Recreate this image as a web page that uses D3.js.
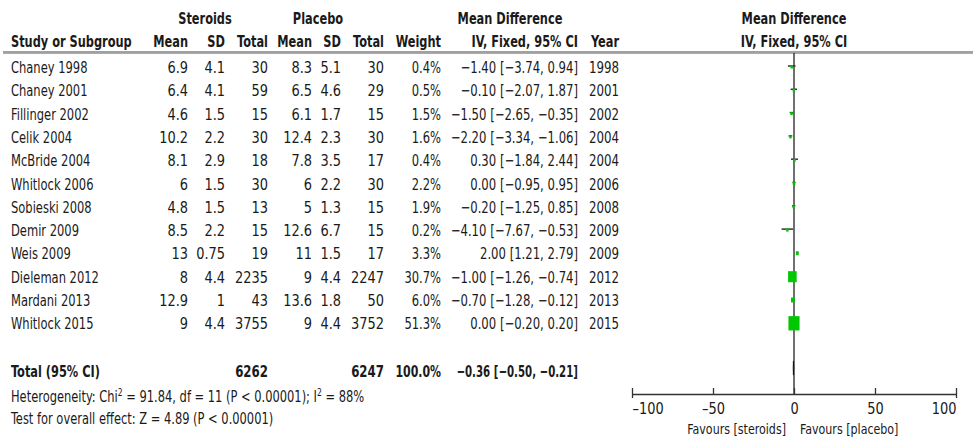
<!DOCTYPE html>
<html>
<head>
<meta charset="utf-8">
<script src="https://cdn.jsdelivr.net/npm/d3@7"></script>
<style>
  body { margin: 0; background: #fff; }
  svg text { font-family: 'DejaVu Sans Condensed', 'DejaVu Sans', sans-serif; fill: #1a1a1a; }
</style>
</head>
<body>
<script>
// data
var studies = ["Chaney 1998", "Chaney 2001", "Fillinger 2002", "Celik 2004", "McBride 2004", "Whitlock 2006",
               "Sobieski 2008", "Demir 2009", "Weis 2009", "Dieleman 2012", "Mardani 2013", "Whitlock 2015"];
var steroidMean = ["6.9", "6.4", "4.6", "10.2", "8.1", "6", "4.8", "8.5", "13", "8", "12.9", "9"];
var steroidSD = ["4.1", "4.1", "1.5", "2.2", "2.9", "1.5", "1.5", "2.2", "0.75", "4.4", "1", "4.4"];
var steroidTotal = [30, 59, 15, 30, 18, 30, 13, 15, 19, 2235, 43, 3755];
var placeboMean = ["8.3", "6.5", "6.1", "12.4", "7.8", "6", "5", "12.6", "11", "9", "13.6", "9"];
var placeboSD = ["5.1", "4.6", "1.7", "2.3", "3.5", "2.2", "1.3", "6.7", "1.5", "4.4", "1.8", "4.4"];
var placeboTotal = [30, 29, 15, 30, 17, 30, 15, 15, 17, 2247, 50, 3752];
var weight = [0.4, 0.5, 1.5, 1.6, 0.4, 2.2, 1.9, 0.2, 3.3, 30.7, 6.0, 51.3];
var md = [-1.40, -0.10, -1.50, -2.20, 0.30, 0.00, -0.20, -4.10, 2.00, -1.00, -0.70, 0.00];
var ciLow = [-3.74, -2.07, -2.65, -3.34, -1.84, -0.95, -1.25, -7.67, 1.21, -1.26, -1.28, -0.20];
var ciHigh = [0.94, 1.87, -0.35, -1.06, 2.44, 0.95, 0.85, -0.53, 2.79, -0.74, -0.12, 0.20];
var years = [1998, 2001, 2002, 2004, 2004, 2006, 2008, 2009, 2009, 2012, 2013, 2015];
var total = { steroid: 6262, placebo: 6247, weight: "100.0%", md: -0.36, lo: -0.50, hi: -0.21 };
var axisTicks = [-100, -50, 0, 50, 100];

var width = 973, height = 438;
var svg = d3.select("body").append("svg")
            .attr("width", width)
            .attr("height", height);

// the reference font is tall and narrow, squeeze the glyphs horizontally
var SX = 0.85, SXB = 0.79, SXN = 0.9;

var fmt = function(v) { return d3.format(".2f")(v).replace("-", "–"); };
var ciText = function(m, l, h) { return fmt(m) + " [" + fmt(l) + ", " + fmt(h) + "]"; };

function txt(g, x0, y0, s, anchor, bold, size, sx) {
  var k = sx || (bold ? SXB : SX);
  return g.append("text")
          .attr("transform", "translate(" + x0 + "," + y0 + ") scale(" + k + ",1)")
          .attr("text-anchor", anchor || "start")
          .attr("font-weight", bold ? "bold" : null)
          .attr("font-size", size || 16)
          .text(s);
}

// row positions
var y = d3.scaleLinear().domain([0, 1]).range([67, 90.3]);
var x = d3.scaleLinear().domain([-100, 100]).range([632, 956]);
var axisY = 394;

// header
txt(svg, 205, 24, "Steroids", "middle", true);
txt(svg, 318, 24, "Placebo", "middle", true);
txt(svg, 510, 24, "Mean Difference", "middle", true);
txt(svg, 794, 24, "Mean Difference", "middle", true);

var cols = [
  { x: 11, a: "start", h: "Study or Subgroup", sx: 0.8 },
  { x: 188, a: "end", h: "Mean", sx: SXN },
  { x: 225, a: "end", h: "SD", sx: SXN },
  { x: 268, a: "end", h: "Total", sx: SXN },
  { x: 312, a: "end", h: "Mean", sx: SXN },
  { x: 341, a: "end", h: "SD", sx: SXN },
  { x: 384, a: "end", h: "Total", sx: SXN },
  { x: 441, a: "end", h: "Weight", sx: 0.8 },
  { x: 578, a: "end", h: "IV, Fixed, 95% CI", sx: 0.81 },
  { x: 619, a: "end", h: "Year", sx: 0.82 }
];
cols.forEach(function(c) { txt(svg, c.x, 47, c.h, c.a, true); });
txt(svg, 794, 47, "IV, Fixed, 95% CI", "middle", true);

// header rule
svg.append("line").attr("x1", 3).attr("x2", width).attr("y1", 52).attr("y2", 52)
   .attr("stroke", "#444").attr("stroke-width", 1.2);
svg.append("line").attr("x1", 3).attr("x2", width).attr("y1", 53.5).attr("y2", 53.5)
   .attr("stroke", "#aaa").attr("stroke-width", 1);

// table body
var cellText = [
  function(i) { return studies[i]; },
  function(i) { return steroidMean[i]; },
  function(i) { return steroidSD[i]; },
  function(i) { return steroidTotal[i]; },
  function(i) { return placeboMean[i]; },
  function(i) { return placeboSD[i]; },
  function(i) { return placeboTotal[i]; },
  function(i) { return weight[i].toFixed(1) + "%"; },
  function(i) { return ciText(md[i], ciLow[i], ciHigh[i]); },
  function(i) { return years[i]; }
];
var body = svg.append("g");
studies.forEach(function(s, i) {
  cols.forEach(function(c, k) {
    txt(body, c.x, y(i) + 6, cellText[k](i), c.a, false, 16, c.sx);
  });
});

// total row
var ty = y(13.05) + 6;
txt(svg, 11, ty, "Total (95% CI)", "start", true);
txt(svg, 268, ty, total.steroid, "end", true, 16, 0.82);
txt(svg, 384, ty, total.placebo, "end", true, 16, 0.82);
txt(svg, 441, ty, total.weight, "end", true, 16, 0.76);
txt(svg, 578, ty, ciText(total.md, total.lo, total.hi), "end", true, 16, 0.71);

// footer
var het = txt(svg, 11, 402, "", "start", false, 15);
het.append("tspan").text("Heterogeneity: Chi");
het.append("tspan").attr("font-size", 10).attr("dy", -6).text("2");
het.append("tspan").attr("dy", 6).text(" = 91.84, df = 11 (P < 0.00001); I");
het.append("tspan").attr("font-size", 10).attr("dy", -6).text("2");
het.append("tspan").attr("dy", 6).text(" = 88%");
txt(svg, 11, 424, "Test for overall effect: Z = 4.89 (P < 0.00001)", "start", false, 15);

// forest plot
svg.append("line").attr("x1", x(0)).attr("x2", x(0)).attr("y1", 53).attr("y2", axisY)
   .attr("stroke", "#222").attr("stroke-width", 1.3);

var boxW = function(i) { return Math.max(2.5, 1.55 * Math.sqrt(weight[i])); };
var boxH = function(i) { return Math.max(3, 2 * Math.sqrt(weight[i])); };
var marks = svg.append("g").selectAll("g.mark").data(studies).enter().append("g").attr("class", "mark");
marks.append("line")
     .attr("x1", function(d, i) { return x(ciLow[i]); })
     .attr("x2", function(d, i) { return x(ciHigh[i]); })
     .attr("y1", function(d, i) { return y(i) - 1; })
     .attr("y2", function(d, i) { return y(i) - 1; })
     .attr("stroke", "#333").attr("stroke-width", 1.5);
marks.append("rect")
     .attr("width", function(d, i) { return boxW(i); })
     .attr("height", function(d, i) { return boxH(i); })
     .attr("x", function(d, i) { return x(md[i]) - boxW(i) / 2; })
     .attr("y", function(d, i) { return y(i) - boxH(i) / 2; })
     .attr("fill", "#00c800");

// pooled diamond
var dy0 = y(13.05) - 3;
svg.append("path")
   .attr("d", "M" + x(total.lo) + "," + dy0 + " L" + x(total.md) + "," + (dy0 - 7) +
              " L" + x(total.hi) + "," + dy0 + " L" + x(total.md) + "," + (dy0 + 7) + "Z")
   .attr("fill", "#111").attr("stroke", "#111").attr("stroke-width", 0.8);

// axis
var axis = svg.append("g").attr("transform", "translate(0," + axisY + ")");
axis.call(d3.axisBottom(x).tickValues(axisTicks).tickSize(0).tickPadding(9)
        .tickFormat(function(d) { return String(d).replace("-", "–"); }));
axis.select(".domain").attr("stroke", "#333").attr("stroke-width", 1.5);
axis.selectAll(".tick line").remove();
axis.selectAll(".tick").append("line")
    .attr("y1", function(d) { return Math.abs(d) === 100 ? 4 : 0; })
    .attr("y2", -6).attr("stroke", "#333").attr("stroke-width", 1.3);
axis.selectAll(".tick text").attr("font-size", 16).attr("font-family", null).attr("fill", "#1a1a1a")
    .attr("transform", "scale(" + SXN + ",1)")
    .attr("text-anchor", function(d) { return d === -100 ? "start" : d === 100 ? "end" : "middle"; });

txt(svg, 786, 434, "Favours [steroids]", "end", false, 14.5);
txt(svg, 800, 434, "Favours [placebo]", "start", false, 14.5);
</script>
</body>
</html>
